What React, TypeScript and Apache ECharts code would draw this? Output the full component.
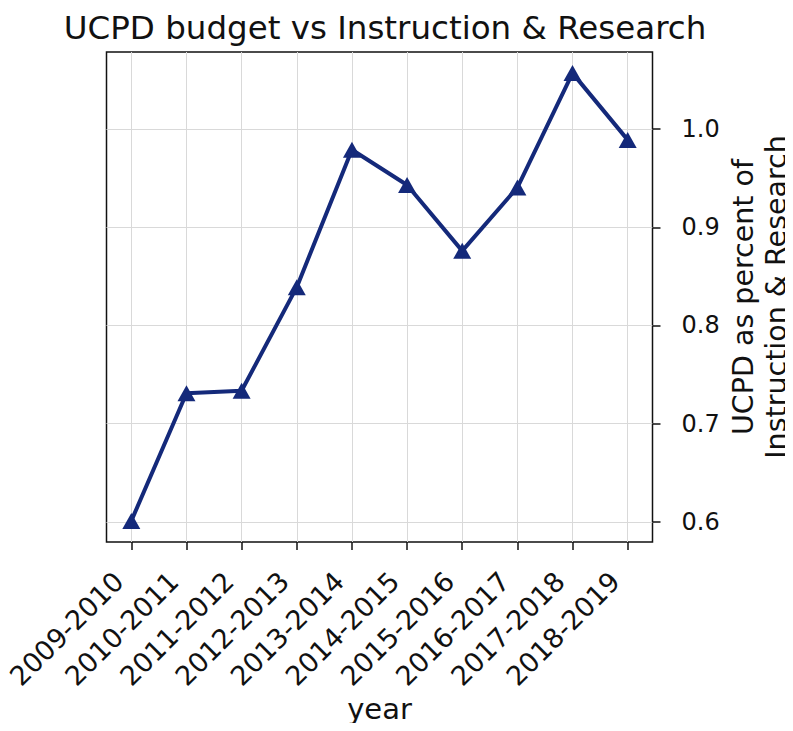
import React, { useEffect, useRef } from "react";
import * as echarts from "echarts";

const categories = [
  "2009-2010", "2010-2011", "2011-2012", "2012-2013", "2013-2014",
  "2014-2015", "2015-2016", "2016-2017", "2017-2018", "2018-2019",
];
const ratio = [0.601, 0.731, 0.7335, 0.839, 0.979, 0.943, 0.876, 0.9405, 1.057, 0.989];
const yTicks = [0.6, 0.7, 0.8, 0.9, 1.0];
const xTicks = categories.map((_, i) => i);

const FONT = "DejaVu Sans";
const LINE = "#14297a";

export default function App() {
  const ref = useRef<HTMLDivElement>(null);
  useEffect(() => {
    if (!ref.current) return;
    const chart = echarts.init(ref.current, undefined, { renderer: "svg" });
    chart.setOption({
      animation: false,
      backgroundColor: "#fff",
      title: {
        text: "UCPD budget vs Instruction & Research",
        left: 380,
        textAlign: "center",
        top: 6,
        textStyle: { fontFamily: FONT, fontSize: 32.5, fontWeight: "normal", color: "#111" },
      },
      grid: {
        left: 106.5,
        right: 140.5,
        top: 52,
        bottom: 189,
        show: true,
        borderColor: "#111",
        borderWidth: 1.5,
        backgroundColor: "transparent",
        outerBoundsMode: "none",
        containLabel: false,
      },
      xAxis: {
        type: "value",
        min: -0.45,
        max: 9.45,
        name: "year",
        nameLocation: "middle",
        nameGap: 152,
        nameMoveOverlap: false,
        nameTextStyle: { fontFamily: FONT, fontSize: 29, color: "#111" },
        axisLine: { show: false, onZero: false },
        axisTick: { show: true, length: 8, customValues: xTicks, lineStyle: { color: "#111", width: 1.5 } },
        axisLabel: {
          customValues: xTicks,
          rotate: 45,
          margin: 22,
          padding: [0, 18, 0, 0],
          fontFamily: FONT,
          fontSize: 27,
          color: "#111",
          formatter: (v: number) => categories[Math.round(v)] ?? "",
        },
        splitLine: { show: true, lineStyle: { color: "#d9d9d9", width: 1 } },
      },
      yAxis: {
        type: "value",
        position: "right",
        min: 0.5795,
        max: 1.0785,
        name: "UCPD as percent of\nInstruction & Research",
        nameLocation: "middle",
        nameRotate: 90,
        nameGap: 74,
        nameMoveOverlap: false,
        nameTextStyle: { fontFamily: FONT, fontSize: 28.5, color: "#111", lineHeight: 33 },
        axisLine: { show: false, onZero: false },
        axisTick: { show: true, length: 8, customValues: yTicks, lineStyle: { color: "#111", width: 1.5 } },
        axisLabel: {
          customValues: yTicks,
          margin: 29,
          fontFamily: FONT,
          fontSize: 24,
          color: "#111",
          formatter: (v: number) => v.toFixed(1),
        },
        splitLine: { show: true, lineStyle: { color: "#d9d9d9", width: 1 } },
      },
      series: [
        {
          type: "line",
          data: ratio.map((v, i) => [i, v]),
          symbol: "triangle",
          symbolSize: [18, 16],
          lineStyle: { color: LINE, width: 4 },
          itemStyle: { color: LINE },
          z: 5,
        },
      ],
    });
    return () => chart.dispose();
  }, []);
  return <div ref={ref} style={{ width: 793, height: 731, margin: -8 }} />;
}
